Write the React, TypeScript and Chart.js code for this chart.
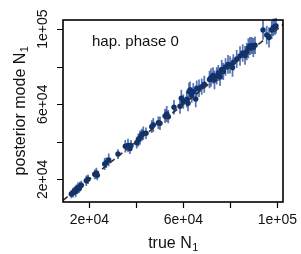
import React, { useEffect, useRef } from "react";
import { Chart, registerables } from "chart.js";
Chart.register(...registerables);

const trueN = [12330, 13060, 13780, 14200, 14460, 15180, 15610, 15910, 16590, 18710, 19440, 22290, 22970, 23400, 26540, 27220, 28250, 32200, 35310, 36460, 37310, 37740, 40160, 40840, 41560, 42290, 42970, 44120, 46540, 47220, 49350, 50070, 52200, 52930, 53610, 56030, 58580, 59140, 59990, 61440, 62000, 62400, 62840, 63560, 64240, 65270, 65690, 66670, 67820, 68920, 71140, 71780, 72630, 73260, 74200, 74880, 75600, 76330, 77010, 77950, 79010, 79860, 80920, 81270, 82710, 84120, 85260, 86240, 86970, 87650, 88370, 89090, 89780, 90500, 93900, 95480, 96450, 97600, 98280, 99010, 99430];
const postMode = [12160, 12860, 13920, 13390, 14670, 15520, 14990, 16060, 16800, 19250, 20000, 22660, 23200, 22130, 28150, 28850, 30290, 33480, 37590, 38020, 36420, 38020, 39510, 40950, 42170, 43610, 44520, 44520, 48040, 48940, 50170, 49850, 53740, 54800, 53370, 58380, 58910, 63170, 61360, 62640, 60510, 66690, 67600, 64930, 66690, 62800, 68500, 68500, 69360, 70640, 73190, 74260, 75330, 72930, 75060, 76660, 74530, 78520, 77460, 79860, 81190, 80920, 79590, 82260, 84120, 85720, 87320, 85990, 88010, 89820, 91050, 91310, 90250, 91420, 99580, 96910, 95580, 99580, 100910, 101440, 101710];
const errHalf = [2200, 2600, 2400, 3000, 2500, 2800, 2300, 2600, 2400, 2800, 2500, 2600, 3000, 2700, 3200, 2800, 3400, 2600, 3300, 3600, 3000, 2900, 3100, 3500, 3800, 3300, 3600, 3100, 3400, 3700, 3300, 3600, 3800, 4200, 3500, 3900, 4000, 4600, 3800, 4200, 4300, 4800, 4500, 4100, 4600, 4400, 4200, 4700, 4300, 4500, 4600, 4900, 4400, 5000, 4600, 4300, 4800, 5100, 4500, 4700, 5000, 4600, 4900, 4400, 4800, 5200, 4700, 5000, 4600, 5300, 4800, 4500, 5100, 4700, 5200, 4900, 5400, 4800, 4600, 4400, 4200];

const xRange = [8800, 102400];
const yRange = [7900, 104900];
const tickValues = [20000, 40000, 60000, 80000, 100000];
const labelValues = [20000, 60000, 100000];
const tickLabels = ["2e+04", "6e+04", "1e+05"];
const annotation = "hap. phase 0";

const FONT = '"Liberation Sans", Arial, Helvetica, sans-serif';

export default function App() {
  const ref = useRef<HTMLCanvasElement>(null);
  useEffect(() => {
    document.body.style.margin = "0";
    const canvas = ref.current!;
    const rPlugin = {
      id: "rstyle",
      beforeDatasetsDraw(chart: any) {
        const { ctx, scales: { x, y } } = chart;
        ctx.save();
        ctx.strokeStyle = "rgba(30,70,150,0.75)";
        ctx.lineWidth = 1.7;
        ctx.beginPath();
        trueN.forEach((tv, i) => {
          const px = x.getPixelForValue(tv);
          ctx.moveTo(px, y.getPixelForValue(postMode[i] - errHalf[i]));
          ctx.lineTo(px, y.getPixelForValue(postMode[i] + errHalf[i]));
        });
        ctx.stroke();
        ctx.restore();
      },
      afterDraw(chart: any) {
        const { ctx, chartArea: { left, right, top, bottom }, scales: { x, y } } = chart;
        ctx.save();
        ctx.strokeStyle = "#000";
        ctx.lineWidth = 1.6;
        ctx.strokeRect(left, top, right - left, bottom - top);
        ctx.lineWidth = 1.2;
        ctx.beginPath();
        tickValues.forEach((v) => {
          const px = Math.round(x.getPixelForValue(v)) + 0.5;
          ctx.moveTo(px, bottom);
          ctx.lineTo(px, bottom + 6);
          const py = Math.round(y.getPixelForValue(v)) + 0.5;
          ctx.moveTo(left, py);
          ctx.lineTo(left - 6, py);
        });
        ctx.stroke();
        ctx.fillStyle = "#111";
        ctx.font = `14px ${FONT}`;
        ctx.textAlign = "center";
        ctx.textBaseline = "middle";
        labelValues.forEach((v, i) => {
          ctx.fillText(tickLabels[i], x.getPixelForValue(v), bottom + 18);
          ctx.save();
          ctx.translate(left - 20, y.getPixelForValue(v));
          ctx.rotate(-Math.PI / 2);
          ctx.fillText(tickLabels[i], 0, 0);
          ctx.restore();
        });
        const drawSub = (main: string, cx: number, cy: number) => {
          ctx.font = `16px ${FONT}`;
          const w1 = ctx.measureText(main).width;
          ctx.font = `11px ${FONT}`;
          const w2 = ctx.measureText("1").width;
          const start = cx - (w1 + w2) / 2;
          ctx.textAlign = "left";
          ctx.textBaseline = "alphabetic";
          ctx.font = `16px ${FONT}`;
          ctx.fillText(main, start, cy);
          ctx.font = `11px ${FONT}`;
          ctx.fillText("1", start + w1 + 0.5, cy + 3);
        };
        drawSub("true N", (left + right) / 2, 248);
        ctx.save();
        ctx.translate(25, (top + bottom) / 2);
        ctx.rotate(-Math.PI / 2);
        drawSub("posterior mode N", 0, 0);
        ctx.restore();
        ctx.font = `15px ${FONT}`;
        ctx.textAlign = "left";
        ctx.textBaseline = "alphabetic";
        ctx.fillText(annotation, 92, 46);
        ctx.restore();
      },
    };
    const chart = new Chart(canvas, {
      type: "scatter",
      data: {
        datasets: [
          {
            type: "line",
            data: xRange.map((v) => ({ x: v, y: v })),
            borderColor: "#333333",
            borderWidth: 1.7,
            borderDash: [6, 4],
            pointRadius: 0,
            fill: false,
          } as any,
          {
            data: trueN.map((v, i) => ({ x: v, y: postMode[i] })),
            backgroundColor: "#0e3272",
            borderWidth: 0,
            pointRadius: 2.7,
          },
        ],
      },
      options: {
        responsive: false,
        animation: false,
        layout: { padding: { left: 63, right: 18, top: 20, bottom: 52 } },
        plugins: { legend: { display: false }, tooltip: { enabled: false } },
        scales: {
          x: { type: "linear", display: false, min: xRange[0], max: xRange[1] },
          y: { type: "linear", display: false, min: yRange[0], max: yRange[1] },
        },
      },
      plugins: [rPlugin],
    });
    return () => chart.destroy();
  }, []);
  return (
    <div style={{ width: 301, height: 254 }}>
      <canvas ref={ref} width={301} height={254} style={{ display: "block" }} />
    </div>
  );
}
